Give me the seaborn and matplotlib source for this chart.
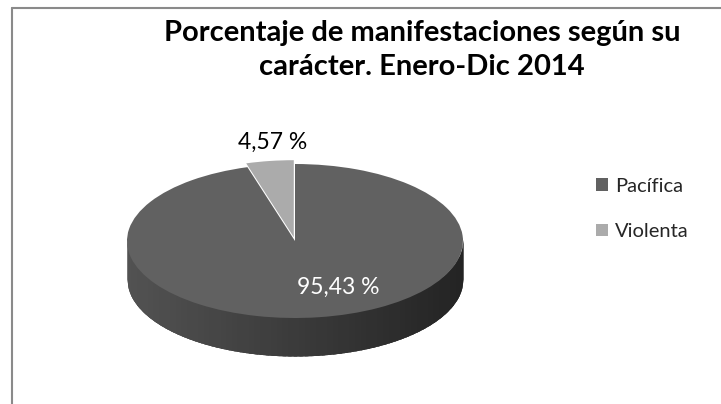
import numpy as np
import matplotlib
matplotlib.use("Agg")
import matplotlib.pyplot as plt
import seaborn as sns

CATEGORIAS = ["Pacífica", "Violenta"]
PORCENTAJES = [95.43, 4.57]
COLORES = ["#616161", "#ababab"]
TITULO = "Porcentaje de manifestaciones según su\ncarácter. Enero-Dic 2014"

W, H = 721, 404


def fmt_pct(p):
    return f"{p:.2f} %".replace(".", ",")


def main():
    sns.set_theme(style="white")
    plt.rcParams["font.family"] = ["Lato", "DejaVu Sans"]

    fig = plt.figure(figsize=(W / 100, H / 100), dpi=100)

    # pie geometry in pixels (top face ellipse)
    cx, cy = 295, 241
    rx, ry = 168, 77
    depth = 38 / ry
    xlim = (-1.2, 1.2)
    ylim = (-1.8, 1.6)
    left = cx - (0 - xlim[0]) * rx
    bottom = (H - cy) - (0 - ylim[0]) * ry
    ax = fig.add_axes([left / W, bottom / H, (xlim[1] - xlim[0]) * rx / W, (ylim[1] - ylim[0]) * ry / H])

    wedges, texts, autotexts = ax.pie(
        PORCENTAJES,
        colors=COLORES,
        startangle=90,
        counterclock=False,
        explode=[0, 0.05],
        autopct=fmt_pct,
        wedgeprops={"linewidth": 0},
        textprops={"fontsize": 16.5},
    )
    ax.set_aspect("auto")
    ax.set_xlim(*xlim)
    ax.set_ylim(*ylim)
    ax.axis("off")
    for w in wedges:
        w.set_zorder(3)

    # side wall of the front half, shaded light (left) to dark (right)
    xx = np.linspace(-1, 1, 400)
    base = -np.sqrt(np.clip(1 - xx ** 2, 0, None))
    ax.fill_between(xx, base - depth, base + 0.02, color="#3b3b3b", linewidth=0, zorder=1)
    n = 60
    xs = np.linspace(-1, 1, n + 1)
    c_left = np.array([0x52, 0x52, 0x52]) / 255
    c_right = np.array([0x24, 0x24, 0x24]) / 255
    step = xs[1] - xs[0]
    for i in range(n):
        seg = np.linspace(max(-1, xs[i] - step * 0.3), min(1, xs[i + 1] + step * 0.3), 8)
        top = -np.sqrt(np.clip(1 - seg ** 2, 0, None))
        f = i / (n - 1)
        col = c_left * (1 - f) + c_right * f
        ax.fill_between(seg, top - depth, top + 0.02, color=col, linewidth=0, zorder=2)

    autotexts[0].set_color("white")
    autotexts[0].set_position((0.26, -0.6))
    autotexts[1].set_color("black")
    autotexts[1].set_position((-0.135, 1.28))
    for t in autotexts:
        t.set_zorder(5)

    fig.text(0.585, 1 - 50 / H, TITULO, ha="center", va="center", fontsize=21,
             fontweight="bold", linespacing=1.4, color="black")

    fig.legend(
        wedges, CATEGORIAS,
        loc="center left", bbox_to_anchor=(578 / W, 1 - 209 / H),
        frameon=False, fontsize=14.5,
        handlelength=0.6, handleheight=0.6, handletextpad=0.35,
        labelspacing=1.4,
    )

    # chart area border (left and top edges visible)
    fig.add_artist(plt.Line2D([11.5 / W, 11.5 / W], [0, 1 - 8 / H], transform=fig.transFigure,
                              color="#8a8a8a", linewidth=1.5))
    fig.add_artist(plt.Line2D([11.5 / W, 1], [1 - 8 / H, 1 - 8 / H], transform=fig.transFigure,
                              color="#8a8a8a", linewidth=1.5))

    fig.savefig("out.png", dpi=100, facecolor="white")


if __name__ == "__main__":
    main()
